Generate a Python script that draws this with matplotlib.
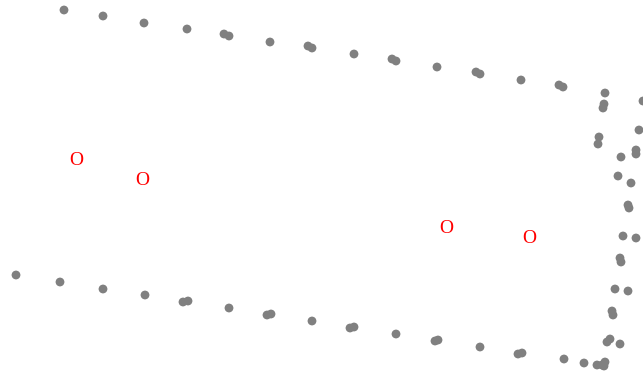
import matplotlib.pyplot as plt

# dot positions (pixel-like units)
top_x = [64, 103, 144, 187, 224, 229, 270, 308, 312, 354, 392, 396, 437, 476, 480, 521, 559, 563]
top_y = [10, 16, 23, 29, 34, 36, 42, 46, 48, 54, 59, 61, 67, 72, 74, 80, 85, 87]

right_x = [605, 604, 603, 643, 639, 599, 598, 636, 636, 621, 618, 631, 628, 629,
           623, 636, 620, 621, 615, 628, 612, 613, 607, 610, 620]
right_y = [93, 104, 108, 101, 130, 137, 144, 150, 154, 157, 176, 183, 205, 208,
           236, 238, 258, 262, 289, 291, 311, 315, 342, 339, 344]

bottom_x = [16, 60, 103, 145, 183, 188, 229, 267, 271, 312, 350, 354, 396, 435, 438,
            480, 518, 522, 564, 584, 597, 602, 605, 604]
bottom_y = [275, 282, 289, 295, 302, 301, 308, 315, 314, 321, 328, 327, 334, 341, 340,
            347, 354, 353, 359, 363, 365, 365, 362, 366]

label_x = [76, 142, 446, 529]
label_y = [158, 178, 226, 236]
labels = ["O", "O", "O", "O"]

fig = plt.figure(figsize=(6.43, 3.78), dpi=100)
ax = fig.add_axes([0, 0, 1, 1])

for xs, ys in [(top_x, top_y), (right_x, right_y), (bottom_x, bottom_y)]:
    ax.scatter(xs, ys, s=40, color='#808080', edgecolors='none')

for x, y, t in zip(label_x, label_y, labels):
    ax.text(x, y + 7, t, color='red', fontsize=14, family='Liberation Serif',
            ha='center', va='baseline')

ax.set_xlim(0, 643)
ax.set_ylim(378, 0)
ax.axis('off')
fig.savefig('out.png', dpi=100)
